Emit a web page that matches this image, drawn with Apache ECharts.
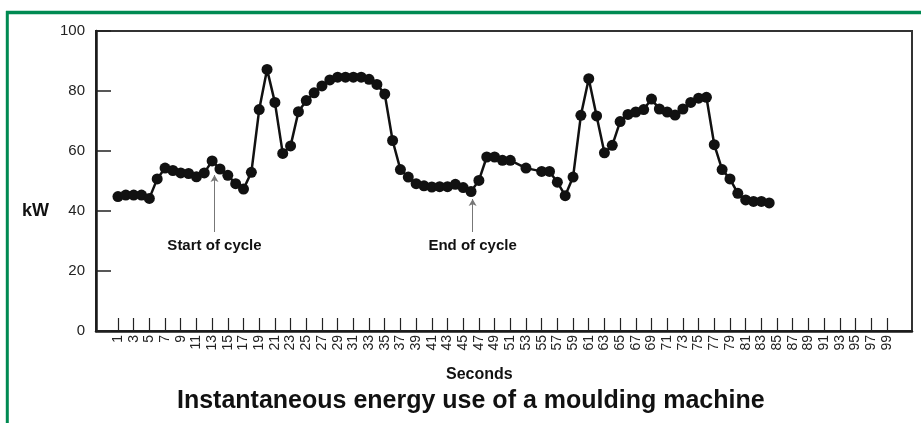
<!DOCTYPE html>
<html>
<head>
<meta charset="utf-8">
<script src="https://cdn.jsdelivr.net/npm/echarts@6/dist/echarts.min.js"></script>
<style>
  html, body { margin: 0; padding: 0; background: #fff; }
  #chart { width: 921px; height: 423px; }
</style>
</head>
<body>
<div id="chart"></div>
<script>
// seconds at which a reading is plotted (two readings are hidden under their neighbours)
var seconds = [
  1, 2, 3, 4, 5, 6, 7, 8, 9, 10, 11, 12, 13, 14, 15, 16, 17, 18, 19, 20,
  21, 22, 23, 24, 25, 26, 27, 28, 29, 30, 31, 32, 33, 34, 35, 36, 37, 38, 39, 40,
  41, 42, 43, 44, 45, 46, 47, 48, 49, 50, 51, 53, 55, 56, 57, 58, 59, 60,
  61, 62, 63, 64, 65, 66, 67, 68, 69, 70, 71, 72, 73, 74, 75, 76, 77, 78, 79, 80,
  81, 82, 83, 84
];
// kW readings
var kw = [
  44.8, 45.3, 45.3, 45.3, 44.2, 50.7, 54.3, 53.5, 52.7, 52.5, 51.4, 52.7, 56.7, 54.0, 51.9, 49.1, 47.3, 52.9, 73.8, 87.2,
  76.2, 59.2, 61.7, 73.1, 76.8, 79.4, 81.7, 83.7, 84.6, 84.6, 84.6, 84.6, 83.9, 82.2, 79.0, 63.5, 53.8, 51.3, 49.1, 48.4,
  48.0, 48.1, 48.1, 48.9, 47.8, 46.5, 50.2, 58.0, 58.0, 56.9, 56.9, 54.3, 53.2, 53.2, 49.6, 45.1, 51.3, 71.9,
  84.1, 71.7, 59.4, 61.9, 69.8, 72.2, 73.0, 73.8, 77.3, 74.0, 73.0, 72.0, 74.0, 76.2, 77.6, 77.9, 62.1, 53.8, 50.7, 45.9,
  43.7, 43.2, 43.2, 42.7
];
// tick labels on the seconds axis
var secondTicks = [
  1, 3, 5, 7, 9, 11, 13, 15, 17, 19, 21, 23, 25, 27, 29, 31, 33, 35, 37, 39,
  41, 43, 45, 47, 49, 51, 53, 55, 57, 59, 61, 63, 65, 67, 69, 71, 73, 75, 77, 79,
  81, 83, 85, 87, 89, 91, 93, 95, 97, 99
];
// annotations: label, second, arrow foot (kW), arrow tip (kW)
var notes = [
  ['Start of cycle', 13.3, 33, 52],
  ['End of cycle', 46.2, 33, 44]
];

var FONT = 'Liberation Sans, Arial, sans-serif';
var chart = echarts.init(document.getElementById('chart'));

var points = seconds.map(function (s, i) { return [s, kw[i]]; });

chart.setOption({
  backgroundColor: '#ffffff',
  animation: false,
  title: {
    text: 'Instantaneous energy use of a moulding machine',
    left: 172,
    top: 384,
    textStyle: { fontFamily: FONT, fontSize: 25, fontWeight: 'bold', color: '#111' }
  },
  grid: {
    left: 96, right: 9, top: 31, bottom: 92,
    show: true,
    borderColor: '#333',
    borderWidth: 2
  },
  xAxis: {
    type: 'value',
    min: -1.8,
    max: 102.2,
    splitLine: { show: false },
    axisLine: { onZero: false, lineStyle: { color: '#1a1a1a', width: 2.5 } },
    axisTick: {
      customValues: secondTicks,
      inside: true,
      length: 13,
      lineStyle: { color: '#222', width: 1.2 }
    },
    axisLabel: {
      customValues: secondTicks,
      rotate: 90,
      margin: 4,
      fontFamily: FONT,
      fontSize: 14,
      color: '#222'
    }
  },
  yAxis: {
    type: 'value',
    min: 0,
    max: 100,
    interval: 20,
    splitLine: { show: false },
    axisLine: { show: true, onZero: false, lineStyle: { color: '#1a1a1a', width: 2.5 } },
    axisTick: { inside: true, length: 15, lineStyle: { color: '#222', width: 1.5 } },
    axisLabel: { margin: 11, fontFamily: FONT, fontSize: 15, color: '#222' }
  },
  graphic: [
    { type: 'line', shape: { x1: 7.3, y1: 11, x2: 7.3, y2: 423 }, style: { stroke: '#008a52', lineWidth: 3 } },
    { type: 'line', shape: { x1: 6, y1: 12.5, x2: 921, y2: 12.5 }, style: { stroke: '#008a52', lineWidth: 3.5 } },
    { type: 'text', left: 22, top: 202, style: { text: 'kW', font: 'bold 18px ' + FONT, fill: '#111' } },
    { type: 'text', left: 446, top: 367, style: { text: 'Seconds', font: 'bold 16px ' + FONT, fill: '#111' } }
  ],
  series: [{
    type: 'line',
    data: points,
    symbol: 'circle',
    symbolSize: 11,
    lineStyle: { color: '#111', width: 2.5 },
    itemStyle: { color: '#111' },
    markLine: {
      silent: true,
      symbol: ['none', 'arrow'],
      symbolSize: [6, 7],
      lineStyle: { color: '#777', width: 1, type: 'solid' },
      label: {
        position: 'start',
        distance: 6,
        formatter: '{b}',
        fontFamily: FONT,
        fontSize: 15,
        fontWeight: 'bold',
        color: '#111'
      },
      data: notes.map(function (n) {
        return [{ name: n[0], coord: [n[1], n[2]] }, { coord: [n[1], n[3]] }];
      })
    }
  }]
});
</script>
</body>
</html>
